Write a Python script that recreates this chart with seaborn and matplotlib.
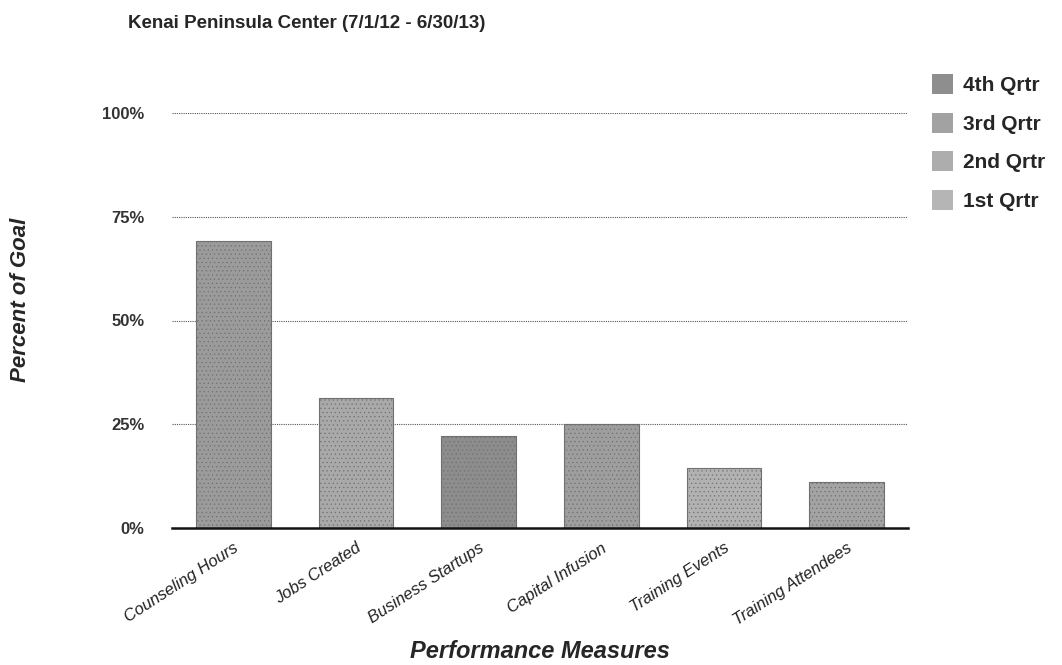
import pandas as pd
import matplotlib
matplotlib.use("Agg")
import matplotlib.pyplot as plt
from matplotlib.patches import Patch
import seaborn as sns

# chart data
measures = ["Counseling Hours", "Jobs Created", "Business Startups",
            "Capital Infusion", "Training Events", "Training Attendees"]
percent_of_goal = [69.1, 31.4, 22.2, 25.1, 14.5, 11.1]
bar_grays = ["#9b9b9b", "#a9a9a9", "#8d8d8d", "#9e9e9e", "#b2b2b2", "#a3a3a3"]

quarters = ["4th Qrtr", "3rd Qrtr", "2nd Qrtr", "1st Qrtr"]
quarter_grays = ["#8e8e8e", "#a2a2a2", "#adadad", "#b5b5b5"]

yticks = [0, 25, 50, 75, 100]

df = pd.DataFrame({"measure": measures, "pct": percent_of_goal})

sns.set_style("white")
plt.rcParams["font.family"] = ["Liberation Sans", "DejaVu Sans"]
plt.rcParams["hatch.color"] = "#6a6a6a"
plt.rcParams["hatch.linewidth"] = 0.4

fig = plt.figure(figsize=(10.62, 6.65), dpi=100)
ax = fig.add_axes([172 / 1062, 1 - 528 / 665, (908 - 172) / 1062, (528 - 113) / 665])

sns.barplot(data=df, x="measure", y="pct", hue="measure", palette=bar_grays,
            legend=False, width=0.61, ax=ax, edgecolor="#707070", linewidth=0.8,
            hatch="....")

ax.set_ylim(0, 100)
ax.set_xlim(-0.5, len(measures) - 0.5)
ax.set_yticks(yticks)
ax.set_yticklabels([f"{t}%" for t in yticks], fontsize=12, fontweight="bold",
                   color="#333333")
ax.tick_params(axis="y", length=0, pad=20)
ax.tick_params(axis="x", length=0, pad=9)
ax.set_xticks(range(len(measures)))
ax.set_xticklabels(measures, rotation=33, ha="right", rotation_mode="anchor",
                   fontsize=12, style="italic", color="#222222")

for t in yticks[1:]:
    ax.axhline(t, color="#555555", linestyle=(0, (1, 1)), linewidth=0.8, zorder=0)

for s in ["top", "right", "left"]:
    ax.spines[s].set_visible(False)
ax.spines["bottom"].set_color("#111111")
ax.spines["bottom"].set_linewidth(1.8)

ax.set_xlabel("Performance Measures", fontsize=17, fontweight="bold",
              style="italic")
ax.xaxis.label.set_va("center")
ax.xaxis.set_label_coords(0.5, (528 - 651) / 415)
ax.set_ylabel("Percent of Goal", fontsize=16, fontweight="bold",
              style="italic")
ax.yaxis.label.set_va("center")
ax.yaxis.set_label_coords(-151 / 736, (528 - 300) / 415)

fig.text(128 / 1062, 1 - 23 / 665, "Kenai Peninsula Center (7/1/12 - 6/30/13)",
         fontsize=13.5, fontweight="bold", va="center", ha="left")

handles = [Patch(facecolor=c, edgecolor="none", hatch="....") for c in quarter_grays]
fig.legend(handles, quarters, loc="upper left", bbox_to_anchor=(913 / 1062, 1 - 55 / 665),
           frameon=False, prop={"weight": "bold", "size": 15},
           handlelength=1.0, handleheight=1.1, labelspacing=0.85, handletextpad=0.5)

fig.savefig("out.png", dpi=100)
